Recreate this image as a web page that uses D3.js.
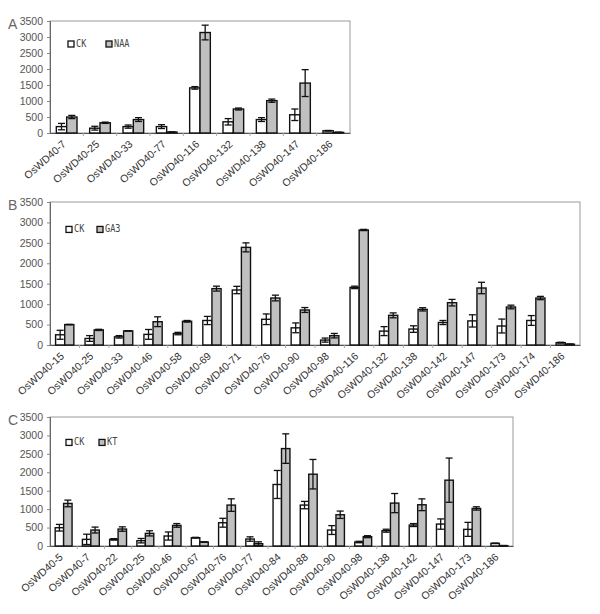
<!DOCTYPE html>
<html><head><meta charset="utf-8">
<script src="https://cdn.jsdelivr.net/npm/d3@7"></script>
<style>body{margin:0;background:#fff}svg{display:block}</style>
</head><body>
<svg id="c" width="600" height="614"></svg>
<script>
const yTicks = [0,500,1000,1500,2000,2500,3000,3500];

const catsA = ["OsWD40-7","OsWD40-25","OsWD40-33","OsWD40-77","OsWD40-116","OsWD40-132","OsWD40-138","OsWD40-147","OsWD40-186"];
const ckA   = [200,150,200,200,1410,350,420,570,70];
const ckAe  = [100,60,50,60,40,100,60,180,10];
const trA   = [500,320,420,30,3140,750,1010,1560,20];
const trAe  = [50,20,60,5,230,30,50,420,5];

const catsB = ["OsWD40-15","OsWD40-25","OsWD40-33","OsWD40-46","OsWD40-58","OsWD40-69","OsWD40-71","OsWD40-76","OsWD40-90","OsWD40-98","OsWD40-116","OsWD40-132","OsWD40-138","OsWD40-142","OsWD40-147","OsWD40-173","OsWD40-174","OsWD40-186"];
const ckB   = [250,160,200,260,280,600,1346,630,420,120,1410,340,390,550,590,465,600,57];
const ckBe  = [110,70,30,120,30,100,90,130,120,50,30,110,80,50,150,170,120,10];
const trB   = [500,370,345,570,580,1380,2390,1150,857,228,2815,726,873,1036,1395,930,1150,20];
const trBe  = [5,15,5,120,20,60,110,70,60,55,15,60,40,80,140,45,40,5];

const catsC = ["OsWD40-5","OsWD40-7","OsWD40-22","OsWD40-25","OsWD40-46","OsWD40-67","OsWD40-76","OsWD40-77","OsWD40-84","OsWD40-88","OsWD40-90","OsWD40-98","OsWD40-138","OsWD40-142","OsWD40-147","OsWD40-173","OsWD40-186"];
const ckC   = [496,180,180,144,271,225,631,189,1669,1110,433,108,415,568,595,451,72];
const ckCe  = [90,140,20,60,110,10,120,60,380,100,120,20,40,40,140,190,5];
const trC   = [1155,433,460,343,559,108,1110,63,2643,1948,848,253,1164,1119,1786,1019,10];
const trCe  = [90,80,60,70,50,5,170,50,400,400,100,27,260,160,600,45,3];

const panels = [
  {letter:"A", trName:"NAA", cats:catsA, ck:ckA, cke:ckAe, tr:trA, tre:trAe, l:50, r:350, t:21, b:133, lgX:[68,106]},
  {letter:"B", trName:"GA3", cats:catsB, ck:ckB, cke:ckBe, tr:trB, tre:trBe, l:50, r:580, t:202, b:345, lgX:[66,97]},
  {letter:"C", trName:"KT",  cats:catsC, ck:ckC, cke:ckCe, tr:trC, tre:trCe, l:50, r:513, t:417, b:546, lgX:[66,99]}
];

const svg = d3.select("#c");

panels.forEach(p => {
  const g = svg.append("g");
  const x = d3.scaleBand().domain(p.cats).range([p.l, p.r]).padding(0);
  const y = d3.scaleLinear().domain([0,3500]).range([p.b, p.t]);
  const bw = x.step()*0.31;

  g.append("rect").attr("x",p.l).attr("y",p.t).attr("width",p.r-p.l).attr("height",p.b-p.t)
    .attr("fill","none").attr("stroke","#999").attr("stroke-width",1);

  const ya = d3.axisLeft(y).tickValues(yTicks).tickSize(3).tickPadding(4).tickFormat(d3.format("d"));
  const yg = g.append("g").attr("transform",`translate(${p.l},0)`).call(ya);
  yg.select(".domain").attr("stroke","#666");
  yg.selectAll(".tick line").attr("stroke","#888");
  yg.selectAll("text").attr("font-family","Arial, 'Liberation Sans', sans-serif").attr("font-size",10.5).attr("fill","#555");

  const xa = d3.axisBottom(x).tickSize(0).tickPadding(0).tickFormat("");
  const xg = g.append("g").attr("transform",`translate(0,${p.b})`).call(xa);
  xg.select(".domain").attr("stroke","#555");
  g.selectAll(".bt").data(p.cats.slice(1)).enter().append("line")
    .attr("x1",d=>x(d)).attr("x2",d=>x(d)).attr("y1",p.b).attr("y2",p.b+3)
    .attr("stroke","#aaa");

  g.selectAll(".xl").data(p.cats).enter().append("text")
    .attr("transform",d=>`translate(${x(d)+x.step()/2},${p.b+12}) rotate(-42)`)
    .attr("text-anchor","end").attr("font-family","Arial, 'Liberation Sans', sans-serif")
    .attr("font-size",10.5).attr("fill","#333").text(d=>d);

  const data = p.cats.map((c,i)=>({c, ck:p.ck[i], cke:p.cke[i], tr:p.tr[i], tre:p.tre[i]}));
  const cx = d => x(d.c)+x.step()/2;
  function drawSeries(key, ekey, off, fill){
    g.selectAll(".b"+key).data(data).enter().append("rect")
      .attr("x",d=>cx(d)+off).attr("y",d=>y(d[key])).attr("width",bw)
      .attr("height",d=>p.b-y(d[key])).attr("fill",fill).attr("stroke","#111").attr("stroke-width",1.4);
    const eg = g.selectAll(".e"+key).data(data).enter().append("g").attr("stroke","#111").attr("stroke-width",1.3);
    const mx = d=>cx(d)+off+bw/2;
    eg.append("line").attr("x1",mx).attr("x2",mx).attr("y1",d=>y(d[key]+d[ekey])).attr("y2",d=>y(Math.max(0,d[key]-d[ekey])));
    eg.append("line").attr("x1",d=>mx(d)-3.5).attr("x2",d=>mx(d)+3.5).attr("y1",d=>y(d[key]+d[ekey])).attr("y2",d=>y(d[key]+d[ekey]));
    eg.append("line").attr("x1",d=>mx(d)-3.5).attr("x2",d=>mx(d)+3.5).attr("y1",d=>y(Math.max(0,d[key]-d[ekey]))).attr("y2",d=>y(Math.max(0,d[key]-d[ekey])));
  }
  drawSeries("ck","cke",-bw,"#fff");
  drawSeries("tr","tre",0,"#c0c0c0");

  g.append("text").attr("x",8).attr("y",p.t+8).attr("font-family","Arial, 'Liberation Sans', sans-serif")
    .attr("font-size",14).attr("fill","#666").text(p.letter);

  const ly = y(3000)+10;
  [["CK","#fff"],[p.trName,"#c0c0c0"]].forEach((it,i)=>{
    g.append("rect").attr("x",p.lgX[i]).attr("y",ly-6).attr("width",6).attr("height",6)
      .attr("fill",it[1]).attr("stroke","#111").attr("stroke-width",1.3);
    g.append("text").attr("x",p.lgX[i]+8).attr("y",ly).attr("font-family","'DejaVu Sans Mono', 'Liberation Mono', monospace")
      .attr("font-size",9.5).attr("fill","#444").attr("transform",`translate(${p.lgX[i]+8},${ly}) scale(0.9,1.1) translate(${-(p.lgX[i]+8)},${-ly})`).text(it[0]);
  });
});
</script>
</body></html>
